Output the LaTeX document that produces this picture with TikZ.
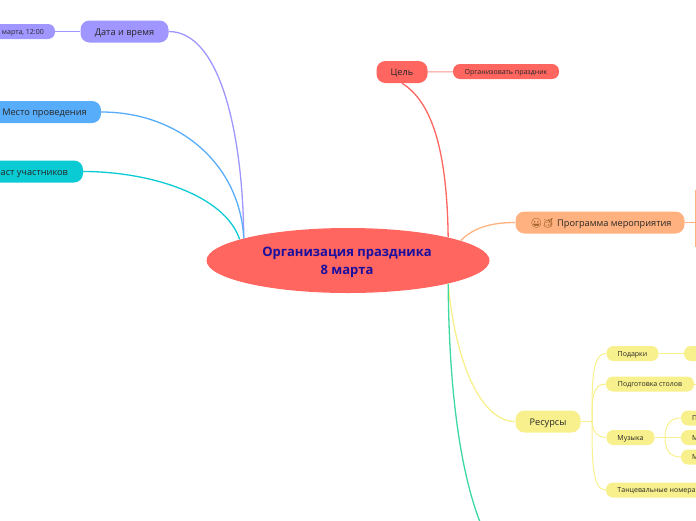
\documentclass[tikz,border=0pt]{standalone}
\usepackage{fontspec}
\setmainfont{Open Sans}
\newfontfamily\emojifont{Noto Emoji}
\usepackage{xcolor}
\usetikzlibrary{shapes.geometric}
\definecolor{rootred}{HTML}{FF6660}
\definecolor{rootblue}{HTML}{1A0F9E}
\definecolor{datelilac}{HTML}{A096FF}
\definecolor{placeblue}{HTML}{57ADFA}
\definecolor{ageteal}{HTML}{0ACBD4}
\definecolor{progorange}{HTML}{FFB27F}
\definecolor{ressyellow}{HTML}{F8F08C}
\definecolor{lastgreen}{HTML}{3DD9A0}
\tikzset{
	x=1pt, y=-1pt,
	topic/.style={rounded corners=9pt, minimum height=22pt, inner sep=0pt, text height=7pt, text depth=0pt, font=\fontsize{9.2}{11}\selectfont, text=black!85},
	leaf/.style={rounded corners=7pt, minimum height=15pt, inner sep=0pt, text height=5pt, text depth=0pt, font=\fontsize{7}{9}\selectfont, text=black!85},
	cut/.style={leaf, fill=ressyellow, minimum width=40pt, text width=18pt, align=left},
	branch/.style={line width=1.3pt},
	twig/.style={line width=1pt},
}
\begin{document}
\begin{tikzpicture}
	\useasboundingbox (0,0) rectangle (696,520);
	\clip (0,0) rectangle (696,520);

	\node[ellipse, fill=rootred, minimum width=283pt, minimum height=65pt, inner sep=0pt, align=center, text=rootblue, font=\fontsize{13}{18}\selectfont\bfseries] (root) at (348,260.5) {\rule{0pt}{13.5pt}Организация праздника\hspace*{2pt}\\8 марта\hspace*{2pt}};

	\node[topic, fill=rootred, minimum width=51pt] (goal) at (402,72) {Цель};
	\node[leaf, fill=rootred, minimum width=106pt] (goalleaf) at (506,71.5) {Организовать праздник};

	\node[topic, fill=datelilac, minimum width=88pt] (date) at (124.5,31.5) {Дата и время};
	\node[leaf, fill=datelilac, minimum width=70pt] (dateleaf) at (20,31.5) {8 марта, 12:00};

	\node[topic, fill=placeblue, minimum width=113pt] (place) at (44.5,112) {Место проведения};
	\node[topic, fill=ageteal, minimum width=119pt] (age) at (23.5,171.5) {Возраст участников};

	\node[topic, fill=progorange, minimum width=169pt] (prog) at (600,222.5) {\hspace{2pt}{\emojifont\textcolor{black!55!orange}{😀🥳}}\hspace{1pt} Программа мероприятия};
	\coordinate (progend) at (695.5,222.5);
	\coordinate (progtop) at (695.5,190);
	\coordinate (progbot) at (695.5,247);

	\node[topic, fill=ressyellow, minimum width=65pt] (res) at (548,421.5) {Ресурсы};
	\node[leaf, fill=ressyellow, minimum width=52pt] (gift) at (632.5,353.5) {Подарки};
	\node[leaf, fill=ressyellow, minimum width=88pt] (table) at (650,384) {Подготовка столов};
	\node[leaf, fill=ressyellow, minimum width=48pt] (music) at (630.5,437.5) {Музыка};
	\node[leaf, fill=ressyellow, minimum width=101pt] (dance) at (656.5,490) {Танцевальные номера};
	\node[leaf, fill=ressyellow, minimum width=40pt] (giftleaf) at (704,353.5) {};
	\node[cut] (m1) at (701,418) {П};
	\node[cut] (m2) at (701,437.5) {М};
	\node[cut] (m3) at (701,457) {М};
	\coordinate (tableend) at (696,384);
	\coordinate (greenend) at (480,522);
	\coordinate (resjoint) at (592,421.5);
	\coordinate (musicjoint) at (665,437.5);

	% main branches
	\draw[branch, rootred] (goal.south) .. controls (432,102) and (447,150) .. (root.13.5);
	\draw[branch, datelilac] (date.east) .. controls (222,31.5) and (243,140) .. (root.168.3);
	\draw[branch, placeblue] (place.east) .. controls (180,112) and (240,165) .. (root.168.6);
	\draw[branch, ageteal] (age.east) .. controls (150,171.5) and (225,195) .. (root.169);
	\draw[branch, progorange] (root.10.2) .. controls (475,226) and (495,222.5) .. (prog.west);
	\draw[branch, ressyellow] (root.-13.4) .. controls (455,360) and (480,421.5) .. (res.west);
	\draw[branch, lastgreen] (root.-13.4) .. controls (449,390) and (460,470) .. (greenend);

	% leaves
	\draw[twig, rootred!70] (goal) -- (goalleaf);
	\draw[twig, datelilac] (date) -- (dateleaf);
	\draw[branch, progorange] (prog.east) -- (progend);
	\draw[twig, progorange] (progtop) -- (progbot);
	\draw[branch, ressyellow] (res.east) -- (resjoint);
	\draw[twig, ressyellow] (resjoint) .. controls (592,380) and (592,353.5) .. (gift.west);
	\draw[twig, ressyellow] (resjoint) .. controls (592,400) and (592,384) .. (table.west);
	\draw[twig, ressyellow] (resjoint) .. controls (592,430) and (597,437.5) .. (music.west);
	\draw[twig, ressyellow] (resjoint) .. controls (592,460) and (592,490) .. (dance.west);
	\draw[twig, ressyellow] (gift) -- (giftleaf);
	\draw[twig, ressyellow] (table) -- (tableend);
	\draw[twig, ressyellow] (music) -- (m2);
	\draw[twig, ressyellow] (musicjoint) .. controls (665,425) and (670,418) .. (m1.west);
	\draw[twig, ressyellow] (musicjoint) .. controls (665,450) and (670,457) .. (m3.west);
\end{tikzpicture}
\end{document}
